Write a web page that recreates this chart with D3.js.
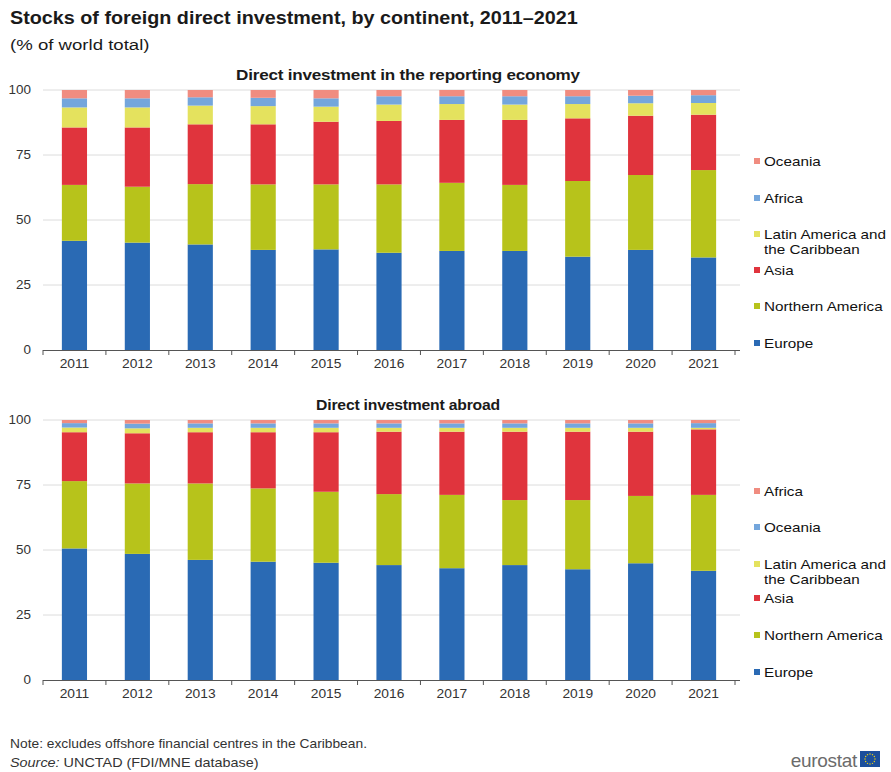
<!DOCTYPE html>
<html>
<head>
<meta charset="utf-8">
<script src="https://cdn.jsdelivr.net/npm/d3@7"></script>
<style>
  html, body { margin: 0; padding: 0; background: #fff; }
  svg { display: block; font-family: "Liberation Sans", Arial, sans-serif; }
</style>
</head>
<body>
<svg id="chart" width="891" height="772"></svg>
<script>
// Years on the x axis
const years = ["2011","2012","2013","2014","2015","2016","2017","2018","2019","2020","2021"];
const yTicks = [0, 25, 50, 75, 100];

// Inward stocks (% of world total), stacked from the bottom
const inwardSeries = ["Europe", "Northern America", "Asia", "Latin America and the Caribbean", "Africa", "Oceania"];
const inwardEurope   = [42.0, 41.3, 40.6, 38.5, 38.7, 37.4, 38.1, 38.1, 35.9, 38.5, 35.6];
const inwardNAmerica = [21.5, 21.5, 23.2, 25.2, 25.0, 26.3, 26.2, 25.4, 29.1, 28.8, 33.6];
const inwardAsia     = [22.1, 22.8, 23.0, 23.1, 24.1, 24.4, 24.2, 25.0, 24.1, 22.8, 21.3];
const inwardLatAm    = [ 7.7,  7.7,  7.2,  7.0,  5.8,  6.3,  6.1,  5.9,  5.5,  4.8,  4.5];
const inwardAfrica   = [ 3.5,  3.5,  3.2,  3.2,  3.2,  3.2,  3.0,  3.2,  3.0,  2.9,  3.0];
const inwardOceania  = [ 3.2,  3.2,  2.8,  3.0,  3.2,  2.4,  2.4,  2.4,  2.4,  2.2,  2.0];

// Outward stocks (% of world total), stacked from the bottom
const outwardSeries = ["Europe", "Northern America", "Asia", "Latin America and the Caribbean", "Oceania", "Africa"];
const outwardEurope   = [50.6, 48.5, 46.2, 45.5, 45.1, 44.2, 43.0, 44.2, 42.6, 44.9, 42.0];
const outwardNAmerica = [25.9, 27.1, 29.4, 28.2, 27.3, 27.3, 28.2, 25.0, 26.6, 25.9, 29.2];
const outwardAsia     = [18.8, 19.3, 19.7, 21.6, 22.9, 24.0, 24.3, 26.3, 26.3, 24.7, 25.2];
const outwardLatAm    = [ 1.8,  1.9,  1.7,  1.7,  1.7,  1.5,  1.5,  1.5,  1.5,  1.5,  0.6];
const outwardOceania  = [ 1.7,  1.8,  1.7,  1.7,  1.7,  1.7,  1.7,  1.7,  1.7,  1.7,  1.8];
const outwardAfrica   = [ 1.2,  1.4,  1.3,  1.3,  1.3,  1.3,  1.3,  1.3,  1.3,  1.3,  1.2];

// Colours by stacking position (bottom to top)
const stackColors = ["#2a6ab4", "#b7c31b", "#e0343d", "#e4e25e", "#74a6dc", "#f08c80"];

const svg = d3.select("#chart");

// Text drawn slightly wide, as in the published graphic
function wideText(parent, x, y, sx, str, attrs) {
  const t = parent.append("text")
    .attr("transform", `translate(${x},${y}) scale(${sx},1)`);
  Object.entries(attrs || {}).forEach(([k, v]) => t.attr(k, v));
  if (str !== null) t.text(str);
  return t;
}

// Titles
wideText(svg, 10, 24, 1.13, "Stocks of foreign direct investment, by continent, 2011–2021",
  { "font-size": 17.5, "font-weight": "bold", "fill": "#1a1a1a" });
wideText(svg, 10, 50, 1.2, "(% of world total)", { "font-size": 15.5, "fill": "#1a1a1a" });

const x = d3.scaleBand().domain(years).range([43, 735]).paddingInner(0.6).paddingOuter(0.3);

function panel(opts) {
  const { top, bottom, title, titleY, titleScale, series, values, legendYs } = opts;
  const y = d3.scaleLinear().domain([0, 100]).range([bottom, top]);
  const g = svg.append("g");

  wideText(g, 408, titleY, titleScale, title, {
    "font-size": 15, "font-weight": "bold", "fill": "#1a1a1a",
    "text-anchor": "middle", "letter-spacing": "-0.2"
  });

  // Gridlines
  g.append("g").selectAll("line").data(yTicks.filter(t => t > 0)).join("line")
    .attr("x1", 43).attr("x2", 740)
    .attr("y1", d => y(d)).attr("y2", d => y(d))
    .attr("stroke", "#dcdcdc").attr("stroke-width", 1);

  // Y tick labels
  const yAxis = g.append("g").attr("transform", "translate(31,0)")
    .call(d3.axisLeft(y).tickValues(yTicks).tickSize(0).tickPadding(0));
  yAxis.select(".domain").remove();
  yAxis.selectAll("text").attr("font-size", 12).attr("fill", "#333")
    .attr("font-family", "Liberation Sans, Arial, sans-serif")
    .attr("transform", "scale(1.12,1)");

  // Stacked bars
  const rows = years.map((yr, i) => {
    const r = { year: yr };
    series.forEach((s, k) => { r[s] = values[k][i]; });
    return r;
  });
  const stacked = d3.stack().keys(series)(rows);
  g.append("g").selectAll("g").data(stacked).join("g")
    .attr("fill", (d, k) => stackColors[k])
    .selectAll("rect").data(d => d).join("rect")
    .attr("x", d => x(d.data.year))
    .attr("width", x.bandwidth())
    .attr("y", d => y(d[1]))
    .attr("height", d => y(d[0]) - y(d[1]));

  // X axis with ticks between categories
  const xAxis = g.append("g").attr("transform", `translate(0,${bottom})`)
    .call(d3.axisBottom(x).tickSize(0).tickPadding(9));
  xAxis.select(".domain").attr("stroke", "#555").attr("d", `M43,0.5H740`);
  xAxis.selectAll("text").attr("font-size", 12).attr("fill", "#333")
    .attr("font-family", "Liberation Sans, Arial, sans-serif")
    .attr("transform", "scale(1.15,1)");
  const step = x.step();
  const bounds = d3.range(0, years.length + 1).map(i => 43 + i * step);
  g.append("g").selectAll("line").data(bounds).join("line")
    .attr("x1", d => d).attr("x2", d => d)
    .attr("y1", bottom).attr("y2", bottom + 5)
    .attr("stroke", "#555");

  // Legend (top entry = top of stack)
  const legendItems = series.map((s, k) => ({ name: s, color: stackColors[k] })).reverse();
  const lg = g.append("g");
  legendItems.forEach((item, i) => {
    const ly = legendYs[i];
    lg.append("rect").attr("x", 754).attr("y", ly - 3).attr("width", 6).attr("height", 6)
      .attr("fill", item.color);
    const t = wideText(lg, 764, ly + 4.5, 1.22, null, { "font-size": 12.5, "fill": "#111" });
    if (item.name === "Latin America and the Caribbean") {
      t.append("tspan").attr("x", 0).text("Latin America and");
      t.append("tspan").attr("x", 0).attr("dy", 16).text("the Caribbean");
    } else {
      t.text(item.name);
    }
  });
}

panel({
  top: 90, bottom: 350, titleY: 80, titleScale: 1.14,
  title: "Direct investment in the reporting economy",
  series: inwardSeries,
  values: [inwardEurope, inwardNAmerica, inwardAsia, inwardLatAm, inwardAfrica, inwardOceania],
  legendYs: [161, 198, 234, 270, 306, 343]
});

panel({
  top: 420, bottom: 680, titleY: 410, titleScale: 1.05,
  title: "Direct investment abroad",
  series: outwardSeries,
  values: [outwardEurope, outwardNAmerica, outwardAsia, outwardLatAm, outwardOceania, outwardAfrica],
  legendYs: [491, 527, 564, 598, 635, 672]
});

// Footer notes
wideText(svg, 10, 748, 1.15, "Note: excludes offshore financial centres in the Caribbean.",
  { "font-size": 12, "fill": "#333" });
const src = wideText(svg, 10, 767, 1.2, null, { "font-size": 12, "fill": "#333" });
src.append("tspan").attr("font-style", "italic").text("Source:");
src.append("tspan").text(" UNCTAD (FDI/MNE database)");

// Eurostat logo
svg.append("text").attr("x", 857).attr("y", 767).attr("text-anchor", "end")
  .attr("font-size", 19).attr("fill", "#6b6b6b").attr("letter-spacing", "-0.3")
  .text("eurostat");
svg.append("rect").attr("x", 860).attr("y", 751).attr("width", 20).attr("height", 16)
  .attr("fill", "#1c4f9c");
const stars = d3.range(12).map(i => {
  const a = i / 12 * 2 * Math.PI;
  return [870 + 5 * Math.cos(a), 759 + 5 * Math.sin(a)];
});
svg.append("g").selectAll("circle").data(stars).join("circle")
  .attr("cx", d => d[0]).attr("cy", d => d[1]).attr("r", 0.7).attr("fill", "#f5d90a");
</script>
</body>
</html>
